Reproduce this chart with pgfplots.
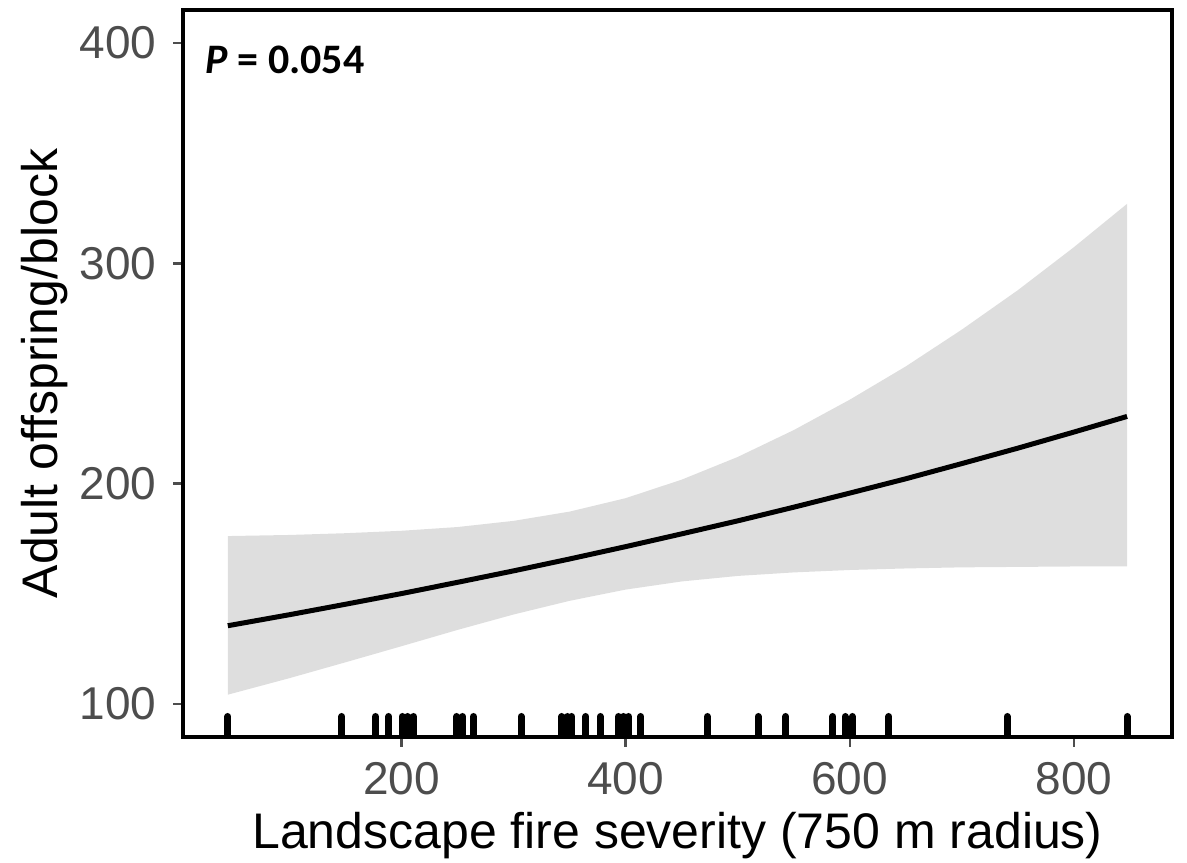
\documentclass[border=0pt]{standalone}
\usepackage{fontspec}
\setmainfont{Liberation Sans}
\newfontfamily\carlito{Carlito}
\usepackage{pgfplots}
\pgfplotsset{compat=1.18}
\usepgfplotslibrary{fillbetween}
\definecolor{band}{HTML}{DEDEDE}
\definecolor{tickgray}{HTML}{4D4D4D}

\begin{document}
\begin{tikzpicture}
\begin{axis}[
  scale only axis, width=247.25pt, height=181.75pt,
  xmin=5, xmax=887.6, ymin=85, ymax=415,
  xtick={200,400,600,800}, ytick={100,200,300,400},
  tick align=outside, major tick length=2.5pt,
  xtick pos=bottom, ytick pos=left,
  axis line style={line width=1pt},
  tick style={tickgray, line width=0.6pt},
  tick label style={font=\fontsize{11.5}{12}\selectfont, text=tickgray, inner sep=0pt},
  /pgf/number format/assume math mode=true,
  yticklabel style={xshift=-4pt},
  xticklabel style={yshift=-3.75pt},
  label style={font=\fontsize{12.5}{14}\selectfont},
  xlabel={Landscape fire severity (750 m radius)},
  ylabel={Adult offspring/block},
  xlabel style={at={(axis description cs:0.5,-0.1362)}, anchor=center},
  ylabel style={at={(axis description cs:-0.1395,0.5)}, anchor=center},
  clip=true,
]
\addplot[name path=up, draw=none] coordinates {
(45,176.2) (100,176.7) (150,177.5) (200,178.6) (250,180.3) (300,183.1) (350,187.3)
(400,193.4) (450,201.8) (500,212.1) (550,224.3) (600,238.1) (650,253.2) (700,269.9)
(750,287.8) (800,307.3) (847.5,327.0)};
\addplot[name path=lo, draw=none] coordinates {
(45,104.2) (100,111.7) (150,118.9) (200,126.2) (250,133.6) (300,140.6) (350,146.8)
(400,151.9) (450,155.6) (500,158.1) (550,159.7) (600,160.8) (650,161.5) (700,162.0)
(750,162.2) (800,162.4) (847.5,162.5)};
\addplot[band, draw=none] fill between[of=up and lo];
\addplot[black, line width=1.25pt] coordinates {
(45,135.5) (100,140.5) (150,145.25) (200,150.1) (250,155.2) (300,160.4) (350,165.8)
(400,171.4) (450,177.2) (500,183.1) (550,189.3) (600,195.7) (650,202.2) (700,209.1)
(750,216.1) (800,223.4) (847.5,230.5)};
\addplot[ycomb, black, line width=1.75pt, line cap=round] coordinates {
(45.1,94.3) (146.7,94.3) (176.8,94.3) (188.6,94.3) (200.6,94.3) (205.6,94.3) (210.7,94.3)
(249.3,94.3) (254.6,94.3) (264.2,94.3) (306.7,94.3)
(343.2,94.3) (348.2,94.3) (352.1,94.3) (364.6,94.3) (377.4,94.3) (393.7,94.3) (397.9,94.3) (402.6,94.3) (413.7,94.3)
(473,94.3) (518.2,94.3) (542.9,94.3) (585,94.3) (595.8,94.3) (602.3,94.3)
(635,94.3) (740.5,94.3) (847.5,94.3)};
\node[anchor=north west, inner sep=0pt, font=\fontsize{10.5}{12}\selectfont\carlito\bfseries]
  at (rel axis cs:0,1) [xshift=5.5pt, yshift=-8.75pt] {\textit{P} = 0.054};
\coordinate (SW) at (rel axis cs:0,0);
\coordinate (NE) at (rel axis cs:1,1);
\end{axis}
\pgfresetboundingbox
\path ([shift={(-45.75pt,-31.5pt)}]SW) rectangle ([shift={(3.75pt,2.5pt)}]NE);
\end{tikzpicture}
\end{document}
